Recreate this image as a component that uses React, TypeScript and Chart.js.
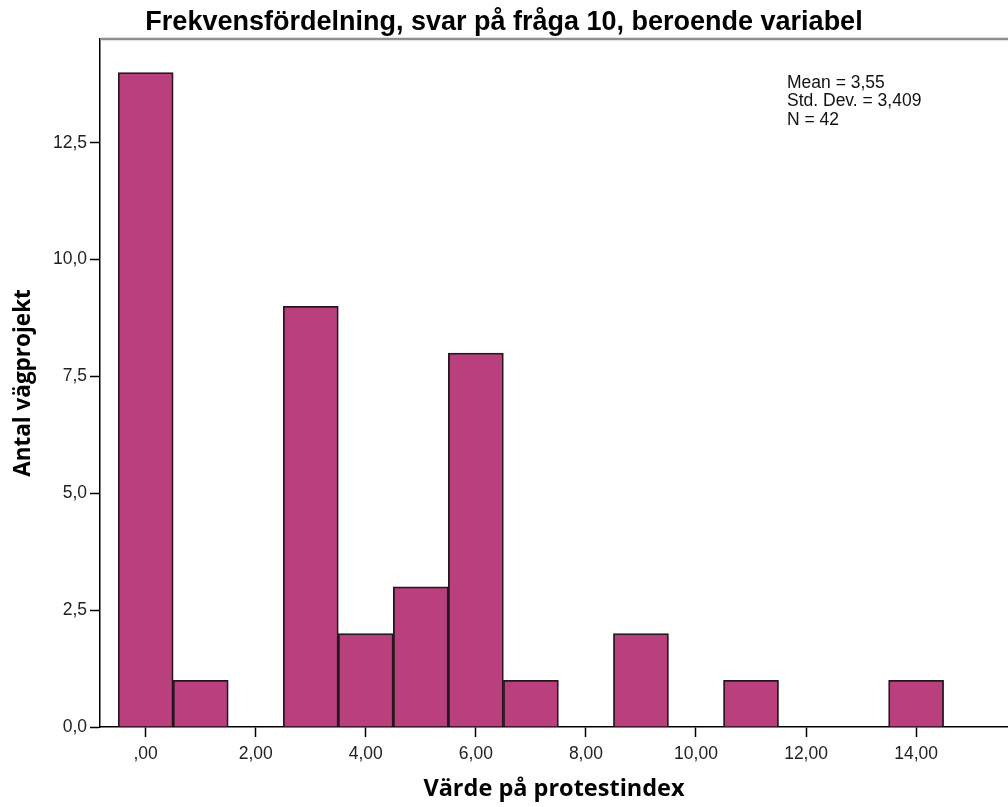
import React, { useEffect, useRef } from "react";
import { Chart, registerables } from "chart.js";

Chart.register(...registerables);

const chartTitle = "Frekvensfördelning, svar på fråga 10, beroende variabel";
const xAxisTitle = "Värde på protestindex";
const yAxisTitle = "Antal vägprojekt";

// histogram bins (bin centres) and frequencies
const binCenters = [0, 1, 2, 3, 4, 5, 6, 7, 8, 9, 10, 11, 12, 13, 14];
const counts = [14, 1, 0, 9, 2, 3, 8, 1, 0, 2, 0, 1, 0, 0, 1];

const statsLines = ["Mean = 3,55", "Std. Dev. = 3,409", "N = 42"];

const xMin = -0.83;
const xMax = 15.67;
const yMin = 0;
const yMax = 14.72;
const xStep = 2;
const yStep = 2.5;

const W = 1008;
const H = 807;

const sans = "'Liberation Sans', Arial, sans-serif";
const boldSans = "'Open Sans', 'DejaVu Sans', sans-serif";

const framePlugin = {
  id: "frameTop",
  afterDraw(chart: any) {
    const { ctx, chartArea } = chart;
    ctx.save();
    ctx.strokeStyle = "#8f8f8f";
    ctx.lineWidth = 2.5;
    ctx.beginPath();
    ctx.moveTo(chartArea.left, chartArea.top);
    ctx.lineTo(chart.width, chartArea.top);
    ctx.stroke();
    ctx.restore();
  },
};

const statsPlugin = {
  id: "statsText",
  afterDraw(chart: any) {
    const { ctx } = chart;
    ctx.save();
    ctx.fillStyle = "#111";
    ctx.font = `17.5px ${sans}`;
    ctx.textAlign = "left";
    ctx.textBaseline = "middle";
    statsLines.forEach((t, i) => {
      ctx.fillText(t, 787, 83 + i * 18.5);
    });
    ctx.restore();
  },
};

export default function App() {
  const ref = useRef<HTMLCanvasElement | null>(null);

  useEffect(() => {
    if (!ref.current) return;
    const points = binCenters
      .map((x, i) => ({ x, y: counts[i] }))
      .filter((p) => p.y > 0);

    const chart = new Chart(ref.current, {
      type: "bar",
      data: {
        datasets: [
          {
            data: points as any,
            backgroundColor: "#BA3F7D",
            borderColor: "#26161f",
            borderWidth: 1.8,
            barPercentage: 1,
            categoryPercentage: 1,
            borderSkipped: "start",
          },
        ],
      },
      options: {
        animation: false,
        responsive: false,
        devicePixelRatio: 1,
        layout: { padding: 0 },
        plugins: {
          legend: { display: false },
          tooltip: { enabled: false },
          title: {
            display: true,
            text: chartTitle,
            color: "#000",
            font: { family: sans, size: 27, weight: "bold", lineHeight: 1.2 },
            padding: { top: 6, bottom: 0.6 },
          },
        },
        scales: {
          x: {
            type: "linear",
            min: xMin,
            max: xMax,
            offset: false,
            grid: {
              display: true,
              offset: false,
              drawOnChartArea: false,
              drawTicks: true,
              tickLength: 10,
              tickColor: "#000",
              tickWidth: 1.5,
            },
            border: { display: true, color: "#000", width: 1.5 },
            ticks: {
              stepSize: xStep,
              includeBounds: false,
              autoSkip: false,
              maxRotation: 0,
              padding: 7,
              color: "#222",
              font: { family: sans, size: 17.5 },
              callback: (v: any) =>
                Number(v) === 0 ? ",00" : Number(v).toFixed(2).replace(".", ","),
            },
            title: {
              display: true,
              text: xAxisTitle,
              color: "#000",
              font: { family: boldSans, size: 23.5, weight: "bold" },
              padding: { top: 0, bottom: 4 },
            },
            afterFit: (s: any) => {
              s.height = H - 727;
            },
          } as any,
          y: {
            type: "linear",
            min: yMin,
            max: yMax,
            grid: {
              display: true,
              drawOnChartArea: false,
              drawTicks: true,
              tickLength: 10,
              tickColor: "#000",
              tickWidth: 1.5,
            },
            border: { display: true, color: "#000", width: 1.5 },
            ticks: {
              stepSize: yStep,
              includeBounds: false,
              autoSkip: false,
              padding: 3,
              color: "#222",
              font: { family: sans, size: 17.5 },
              callback: (v: any) => Number(v).toFixed(1).replace(".", ","),
            },
            title: {
              display: true,
              text: yAxisTitle,
              color: "#000",
              font: { family: boldSans, size: 22.5, weight: "bold" },
              padding: { top: 10, bottom: 0 },
            },
            afterFit: (s: any) => {
              s.width = 100;
            },
          } as any,
        },
      },
      plugins: [framePlugin, statsPlugin],
    });
    return () => chart.destroy();
  }, []);

  return (
    <div style={{ position: "absolute", left: 0, top: 0, width: W, height: H, background: "#fff" }}>
      <canvas ref={ref} width={W} height={H} style={{ display: "block", width: W, height: H }} />
    </div>
  );
}
